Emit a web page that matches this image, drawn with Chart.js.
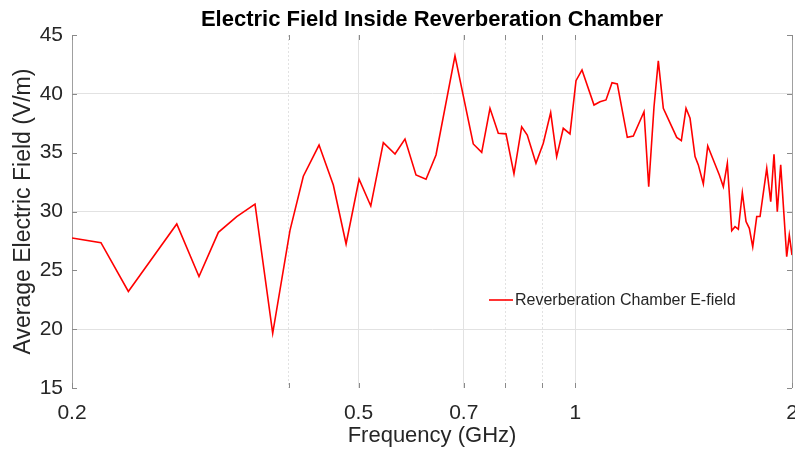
<!DOCTYPE html>
<html>
<head>
<meta charset="utf-8">
<script src="https://cdn.jsdelivr.net/npm/chart.js@4"></script>
<style>
  html, body { margin: 0; padding: 0; background: #fff; }
  #wrap { width: 795px; height: 454px; }
</style>
</head>
<body>
<div id="wrap"><canvas id="chart" width="795" height="454"></canvas></div>
<script>
// frequency in GHz
const freqGHz = [0.2, 0.2194, 0.2395, 0.2796, 0.3002, 0.3194, 0.3387, 0.3591, 0.3800, 0.4016,
  0.4191, 0.4407, 0.4613, 0.4805, 0.5009, 0.5200, 0.5413, 0.5619, 0.5801, 0.6009,
  0.6205, 0.6406, 0.6807, 0.7217, 0.7414, 0.7613, 0.7818, 0.8013, 0.8220, 0.8425,
  0.8577, 0.8819, 0.9028, 0.9244, 0.9423, 0.9624, 0.9833, 1.0024, 1.0218, 1.0618,
  1.0823, 1.1033, 1.1247, 1.1439, 1.1811, 1.2040, 1.2459, 1.2648, 1.2864, 1.3042,
  1.3253, 1.3833, 1.4039, 1.4251, 1.4435, 1.4668, 1.4823, 1.5062, 1.5276, 1.5552,
  1.5853, 1.6057, 1.6264, 1.6494, 1.6669, 1.6846, 1.7063, 1.7266, 1.7449, 1.7640,
  1.7867, 1.8057, 1.8448, 1.8685, 1.8881, 1.9081, 1.9290, 1.9664, 1.9828, 2.0];

// average E-field (V/m)
const eField = [27.75, 27.35, 23.2, 28.94, 24.47, 28.23, 29.57, 30.62, 19.65, 28.4,
  33.0, 35.65, 32.25, 27.24, 32.74, 30.47, 35.85, 34.89, 36.16, 33.1,
  32.74, 34.8, 43.22, 35.74, 35.03, 38.77, 36.65, 36.6, 33.2, 37.2,
  36.5, 34.1, 35.8, 38.4, 34.66, 37.07, 36.6, 41.12, 42.03, 39.05,
  39.33, 39.48, 40.95, 40.84, 36.3, 36.42, 38.48, 32.1, 38.9, 42.8,
  38.77, 36.3, 36.02, 38.77, 37.92, 34.66, 33.96, 32.34, 35.57, 34.38,
  33.1, 32.11, 34.1, 28.37, 28.71, 28.49, 31.6, 29.14, 28.57, 27.0,
  29.57, 29.57, 33.67, 30.84, 34.86, 29.99, 33.96, 26.16, 28.0, 26.3];

const xTickValues = [0.2, 0.4, 0.5, 0.7, 0.8, 0.9, 1, 2];
const xTickLabels = ['0.2', '', '0.5', '0.7', '', '', '1', '2'];
const yTickValues = [15, 20, 25, 30, 35, 40, 45];
const yGridValues = [20, 30, 40];

const FONT = "'Liberation Sans', Arial, sans-serif";
const TEXT = '#262626';

// title, inner tick marks and legend, placed like the matlab figure
const overlay = {
  id: 'overlay',
  afterDraw(chart) {
    const { ctx, chartArea: a, scales } = chart;
    ctx.save();

    ctx.fillStyle = '#000';
    ctx.font = 'bold 22px ' + FONT;
    ctx.textAlign = 'center';
    ctx.textBaseline = 'middle';
    ctx.fillText('Electric Field Inside Reverberation Chamber', (a.left + a.right) / 2, 20);

    ctx.strokeStyle = '#8a8a8a';
    ctx.lineWidth = 1;
    ctx.beginPath();
    xTickValues.forEach(v => {
      const px = Math.round(scales.x.getPixelForValue(v)) + 0.5;
      ctx.moveTo(px, a.bottom); ctx.lineTo(px, a.bottom - 5);
      ctx.moveTo(px, a.top); ctx.lineTo(px, a.top + 5);
    });
    yTickValues.forEach(v => {
      const py = Math.round(scales.y.getPixelForValue(v)) + 0.5;
      ctx.moveTo(a.left, py); ctx.lineTo(a.left + 5, py);
      ctx.moveTo(a.right, py); ctx.lineTo(a.right - 5, py);
    });
    ctx.stroke();

    const ds = chart.data.datasets[0];
    ctx.strokeStyle = ds.borderColor;
    ctx.lineWidth = ds.borderWidth;
    ctx.beginPath();
    ctx.moveTo(489, 300); ctx.lineTo(513, 300);
    ctx.stroke();
    ctx.fillStyle = TEXT;
    ctx.font = '16px ' + FONT;
    ctx.textAlign = 'left';
    ctx.fillText(ds.label, 515, 301);

    ctx.restore();
  }
};

new Chart(document.getElementById('chart'), {
  type: 'line',
  data: {
    datasets: [{
      label: 'Reverberation Chamber E-field',
      data: freqGHz.map((f, i) => ({ x: f, y: eField[i] })),
      borderColor: '#ff0000',
      borderWidth: 1.6,
      pointRadius: 0,
      tension: 0,
      fill: false,
    }]
  },
  options: {
    responsive: false,
    animation: false,
    layout: { padding: { top: 35, right: 3, left: 0, bottom: 0 } },
    plugins: {
      legend: { display: false },
      tooltip: { enabled: false },
    },
    scales: {
      x: {
        type: 'logarithmic',
        min: 0.2,
        max: 2,
        afterBuildTicks: s => { s.ticks = xTickValues.map(v => ({ value: v })); },
        afterFit: s => { s.height = 66; s.paddingLeft = 0; s.paddingRight = 0; },
        ticks: {
          callback: (v, i) => xTickLabels[i],
          autoSkip: false,
          maxRotation: 0,
          color: TEXT,
          padding: 13,
          font: { family: FONT, size: 21 },
        },
        grid: {
          drawTicks: false,
          color: c => {
            if (!c.tick) return 'transparent';
            if (c.tick.value === 0.2) return 'transparent';
            if (c.tick.value === 2) return '#a0a0a0';
            return '#e2e2e2';
          },
        },
        border: {
          display: false,
          dash: c => (c.tick && [0.4, 0.8, 0.9].includes(c.tick.value)) ? [2, 2] : [],
        },
        title: {
          display: true,
          text: 'Frequency (GHz)',
          color: TEXT,
          font: { family: FONT, size: 22 },
          padding: { top: 0, bottom: 5 },
        },
      },
      y: {
        min: 15,
        max: 45,
        afterBuildTicks: s => { s.ticks = yTickValues.map(v => ({ value: v })); },
        afterFit: s => { s.width = 72; s.paddingTop = 0; s.paddingBottom = 0; },
        ticks: {
          color: TEXT,
          padding: 9,
          font: { family: FONT, size: 21 },
        },
        grid: {
          drawTicks: false,
          color: c => (c.tick && yGridValues.includes(c.tick.value)) ? '#e2e2e2' : 'transparent',
        },
        border: { display: true, color: '#a0a0a0' },
        title: {
          display: true,
          text: 'Average Electric Field (V/m)',
          color: TEXT,
          font: { family: FONT, size: 23 },
          padding: { top: 10, bottom: 0 },
        },
      },
    },
  },
  plugins: [overlay],
});
</script>
</body>
</html>
